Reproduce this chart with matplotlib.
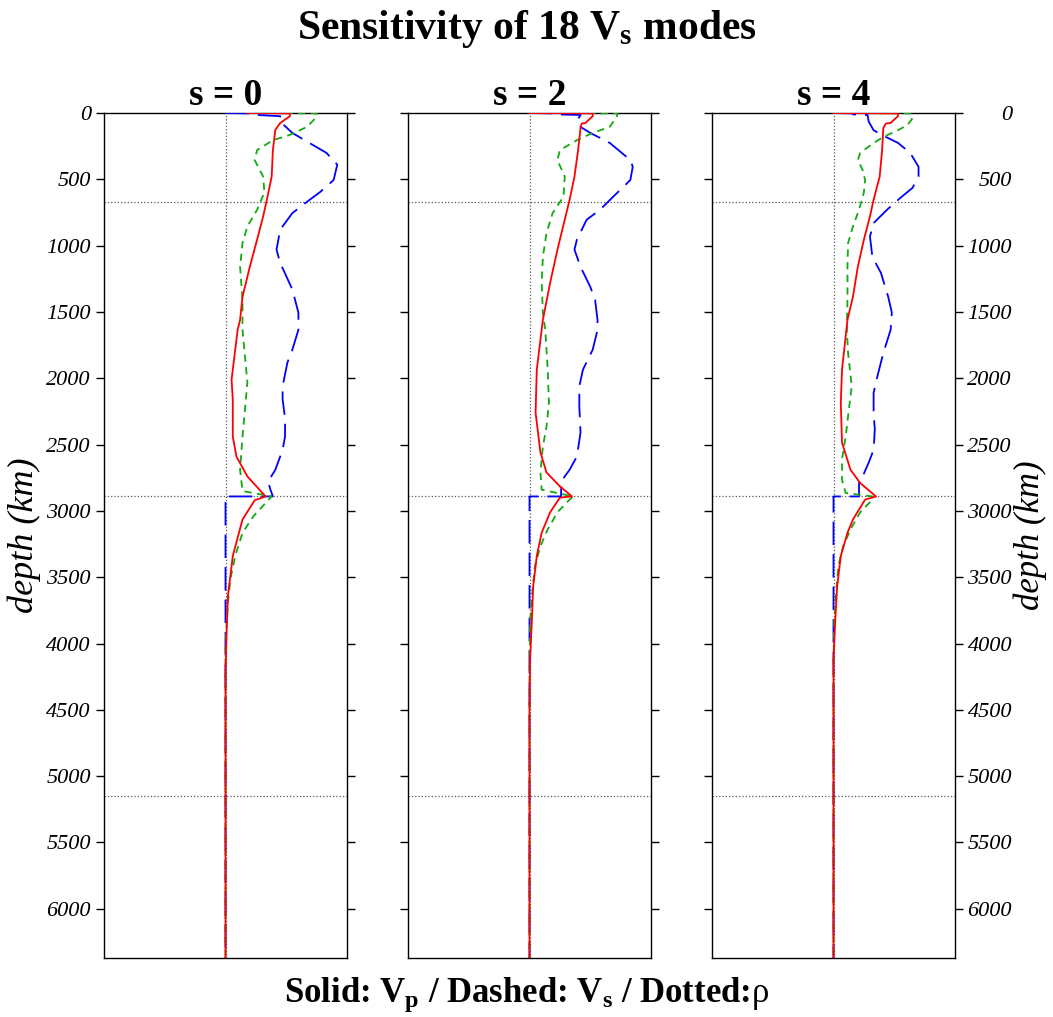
import numpy as np
import matplotlib
matplotlib.use("Agg")
import matplotlib.pyplot as plt

plt.rcParams["font.family"] = ["Liberation Serif", "DejaVu Serif"]
plt.rcParams["mathtext.fontset"] = "custom"
plt.rcParams["mathtext.rm"] = "Liberation Serif"
plt.rcParams["mathtext.bf"] = "Liberation Serif:bold"
plt.rcParams["mathtext.default"] = "bf"

# mode order s for each panel
s_values = [0, 2, 4]

# depth (km) / kernel amplitude for each panel
vp_depth = [
    [0, 3, 24, 75, 128, 280, 480, 655, 780, 955, 1160, 1385, 1560, 1635, 2010, 2160, 2440, 2590, 2740, 2891,
     2920, 3065, 3340, 3640, 3890, 4200, 6371],
    [0, 3, 24, 75, 80, 115, 280, 480, 655, 805, 1030, 1280, 1560, 1935, 2260, 2560, 2710, 2815, 2891,
     2900, 3010, 3165, 3340, 3570, 3815, 4120, 4500, 6371],
    [0, 3, 24, 75, 80, 115, 280, 480, 655, 780, 955, 1160, 1385, 1560, 1935, 2185, 2485, 2690, 2790, 2891,
     2915, 3065, 3165, 3340, 3570, 3815, 4120, 6371],
]
vp_val = [
    [0.18, 0.53, 0.53, 0.45, 0.41, 0.39, 0.38, 0.34, 0.31, 0.26, 0.20, 0.14, 0.12, 0.10, 0.05, 0.06, 0.06, 0.09, 0.18, 0.33,
     0.24, 0.14, 0.06, 0.02, 0.01, 0.0, 0.0],
    [0.0, 0.52, 0.52, 0.46, 0.43, 0.42, 0.40, 0.37, 0.33, 0.29, 0.23, 0.17, 0.11, 0.06, 0.05, 0.09, 0.14, 0.25, 0.35,
     0.25, 0.17, 0.10, 0.06, 0.03, 0.02, 0.005, 0.0, 0.0],
    [0.0, 0.53, 0.53, 0.47, 0.43, 0.41, 0.40, 0.38, 0.33, 0.30, 0.25, 0.20, 0.16, 0.115, 0.07, 0.06, 0.07, 0.14, 0.22, 0.35,
     0.26, 0.16, 0.115, 0.06, 0.03, 0.015, 0.0, 0.0],
]

vs_depth = [
    [0, 3, 15, 24, 65, 150, 215, 300, 390, 505, 595, 670, 755, 880, 1030, 1130, 1330, 1505, 1635, 1785, 1880, 2060,
     2160, 2300, 2440, 2540, 2690, 2780, 2840, 2891, 2891, 6371],
    [0, 3, 10, 15, 60, 105, 150, 225, 355, 405, 505, 630, 730, 805, 955, 1030, 1160, 1310, 1410, 1560, 1635, 1785,
     1935, 2060, 2210, 2410, 2590, 2690, 2765, 2840, 2891, 2891, 6371],
    [0, 3, 10, 15, 65, 130, 180, 225, 300, 405, 480, 565, 640, 730, 830, 930, 1085, 1205, 1385, 1505, 1635, 1810,
     1990, 2110, 2260, 2385, 2540, 2635, 2740, 2790, 2865, 2891, 2891, 6371],
]
vs_val = [
    [0.0, 0.18, 0.26, 0.45, 0.45, 0.55, 0.67, 0.83, 0.92, 0.89, 0.78, 0.67, 0.55, 0.45, 0.42, 0.45, 0.55, 0.60, 0.60, 0.55,
     0.51, 0.47, 0.47, 0.49, 0.49, 0.47, 0.41, 0.35, 0.37, 0.39, 0.0, 0.0],
    [0.0, 0.19, 0.19, 0.42, 0.39, 0.42, 0.50, 0.66, 0.83, 0.85, 0.83, 0.69, 0.58, 0.47, 0.39, 0.37, 0.42, 0.50, 0.54,
     0.56, 0.56, 0.52, 0.44, 0.41, 0.41, 0.42, 0.39, 0.33, 0.27, 0.26, 0.26, 0.0, 0.0],
    [0.0, 0.16, 0.16, 0.28, 0.29, 0.33, 0.43, 0.53, 0.63, 0.70, 0.70, 0.65, 0.55, 0.44, 0.33, 0.30, 0.32, 0.39, 0.45,
     0.48, 0.47, 0.41, 0.36, 0.33, 0.33, 0.34, 0.33, 0.29, 0.24, 0.21, 0.21, 0.21, 0.0, 0.0],
]

rho_depth = [
    [0, 3, 24, 30, 105, 165, 205, 280, 355, 480, 600, 730, 855, 980, 1160, 1410, 1635, 2030, 2440, 2690, 2850, 2891,
     2940, 3040, 3165, 3340, 3515, 3690, 4000, 6371],
    [0, 3, 24, 105, 150, 205, 280, 355, 480, 630, 755, 905, 1085, 1280, 1505, 1635, 1935, 2185, 2365, 2515, 2710, 2840,
     2891, 2915, 3010, 3140, 3265, 3415, 3640, 3840, 4200, 6371],
    [0, 3, 24, 40, 90, 130, 180, 240, 300, 355, 430, 505, 600, 730, 855, 980, 1160, 1410, 1635, 1810, 2060, 2285, 2440,
     2610, 2765, 2865, 2891, 2915, 3010, 3140, 3265, 3415, 3640, 3840, 4200, 6371],
]
rho_val = [
    [0.18, 0.75, 0.75, 0.75, 0.67, 0.53, 0.39, 0.26, 0.24, 0.31, 0.32, 0.26, 0.18, 0.14, 0.12, 0.14, 0.14, 0.18, 0.14,
     0.12, 0.14, 0.38, 0.33, 0.23, 0.14, 0.08, 0.04, 0.02, 0.0, 0.0],
    [0.17, 0.72, 0.72, 0.66, 0.52, 0.39, 0.25, 0.23, 0.29, 0.28, 0.19, 0.14, 0.11, 0.10, 0.11, 0.13, 0.15, 0.16, 0.14,
     0.11, 0.09, 0.10, 0.36, 0.33, 0.23, 0.15, 0.09, 0.045, 0.02, 0.005, 0.0, 0.0],
    [0.16, 0.63, 0.63, 0.65, 0.61, 0.53, 0.41, 0.31, 0.22, 0.20, 0.24, 0.26, 0.25, 0.21, 0.16, 0.12, 0.115, 0.115, 0.11,
     0.12, 0.15, 0.12, 0.10, 0.07, 0.07, 0.10, 0.32, 0.32, 0.22, 0.14, 0.08, 0.04, 0.02, 0.005, 0.0, 0.0],
]

# discontinuities: 670, CMB, ICB
boundaries = [670, 2891, 5150]
depth_ticks = [0, 500, 1000, 1500, 2000, 2500, 3000, 3500, 4000, 4500, 5000, 5500, 6000]

fig = plt.figure(figsize=(10.53, 10.17), dpi=100)
lefts = [104 / 1053, 408 / 1053, 712 / 1053]
w = 243 / 1053
b = 1 - 958 / 1017
h = (958 - 113) / 1017

for i in range(3):
    ax = fig.add_axes([lefts[i], b, w, h])
    ax.axvline(0, color="0.35", ls=":", lw=0.9, zorder=1)
    for d in boundaries:
        ax.axhline(d, color="0.35", ls=":", lw=0.9, zorder=1)

    ax.plot(vs_val[i], vs_depth[i], color="blue", lw=1.3, dashes=(13, 5), zorder=3)
    ax.plot(rho_val[i], rho_depth[i], color="#11aa11", lw=1.3, dashes=(4, 3), zorder=3)
    ax.plot(vp_val[i], vp_depth[i], color="red", lw=1.3, zorder=4)

    ax.set_xlim(-1, 1)
    ax.set_ylim(6371, 0)
    ax.set_xticks([])
    ax.set_yticks(depth_ticks)
    ax.tick_params(axis="y", direction="out", length=6, width=1, left=True, right=True,
                   labelleft=(i == 0), labelright=(i == 2), labelsize=16)
    for sp in ax.spines.values():
        sp.set_linewidth(1.0)
    ax.set_title("s = %d" % s_values[i], fontsize=27, fontweight="bold", pad=0)

    if i == 0:
        for lab in ax.get_yticklabels():
            lab.set_fontstyle("italic")
        ax.set_ylabel("depth (km)", fontsize=26, fontstyle="italic", labelpad=4)
    if i == 2:
        # right-side labels are right aligned in the original
        ax.tick_params(axis="y", which="major", pad=35)
        for lab in ax.get_yticklabels(which="major"):
            lab.set_fontstyle("italic")
            lab.set_horizontalalignment("right")
        ax.yaxis.set_label_position("right")
        ax.set_ylabel("depth (km)", fontsize=25, fontstyle="italic", labelpad=1, rotation=90)

fig.text(0.5, 0.971, "Sensitivity of 18 V$_{s}$ modes", ha="center", va="center",
         fontsize=30, fontweight="bold")
fig.text(0.5, 0.022, r"Solid: V$_{p}$ / Dashed: V$_{s}$ / Dotted:$\mathrm{\rho}$", ha="center", va="center",
         fontsize=25, fontweight="bold")

fig.savefig("out.png", dpi=100)
